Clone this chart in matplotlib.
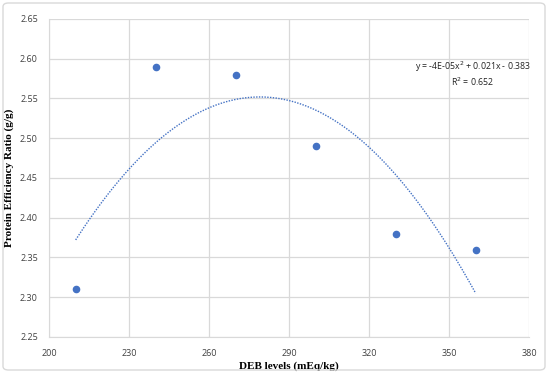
import matplotlib.pyplot as plt
import numpy as np
from matplotlib.patches import FancyBboxPatch

deb_levels = [210, 240, 270, 300, 330, 360]
per_values = [2.31, 2.59, 2.58, 2.49, 2.38, 2.36]
x_ticks = [200, 230, 260, 290, 320, 350, 380]
y_ticks = [2.25, 2.30, 2.35, 2.40, 2.45, 2.50, 2.55, 2.60, 2.65]
equation_text = "y = -4E-05x$^{2}$ + 0.021x - 0.383"
r2_text = "R$^{2}$ = 0.652"

blue = "#4472C4"
grid_grey = "#D9D9D9"

fig = plt.figure(figsize=(5.48, 3.73), dpi=100)
ax = fig.add_axes([49 / 548, 36 / 373, 480 / 548, 318 / 373])

# outer chart border
fig.patches.append(FancyBboxPatch((3 / 548, 3 / 373), 542 / 548, 367 / 373,
                                  boxstyle="round,pad=0,rounding_size=0.01",
                                  transform=fig.transFigure, fill=False,
                                  edgecolor=grid_grey, linewidth=1.0))

ax.scatter(deb_levels, per_values, s=20, color=blue, zorder=3)

# second order trendline, as the spreadsheet would draw it
coeffs = np.polyfit(deb_levels, per_values, 2)
xs = np.linspace(min(deb_levels), max(deb_levels), 200)
ax.plot(xs, np.polyval(coeffs, xs), color=blue, linestyle=(0, (1, 1)),
        linewidth=1.0, zorder=2)

ax.set_xlim(200, 380)
ax.set_ylim(2.25, 2.65)
ax.set_xticks(x_ticks)
ax.set_yticks(y_ticks)
ax.set_yticklabels([f"{v:.2f}" for v in y_ticks])
ax.grid(True, color=grid_grey, linewidth=0.9)
ax.set_axisbelow(True)
ax.tick_params(length=0, labelsize=6.5, labelcolor="#404040")
ax.tick_params(axis="x", pad=9)
ax.tick_params(axis="y", pad=8)
for lab in ax.get_xticklabels() + ax.get_yticklabels():
    lab.set_family("Open Sans")
for side in ["top", "right"]:
    ax.spines[side].set_visible(False)
for side in ["left", "bottom"]:
    ax.spines[side].set_color(grid_grey)

ax.set_xlabel("DEB levels (mEq/kg)", family="Liberation Serif",
              fontweight="bold", fontsize=8, labelpad=2)
ax.set_ylabel("Protein Efficiency Ratio (g/g)", family="Liberation Serif",
              fontweight="bold", fontsize=8, labelpad=4)

ax.text(0.883, 0.849, equation_text, transform=ax.transAxes, ha="center",
        va="center", fontsize=6.3, family="Open Sans", color="#222222")
ax.text(0.883, 0.803, r2_text, transform=ax.transAxes, ha="center",
        va="center", fontsize=6.3, family="Open Sans", color="#222222")

fig.savefig("out.png", dpi=100)
